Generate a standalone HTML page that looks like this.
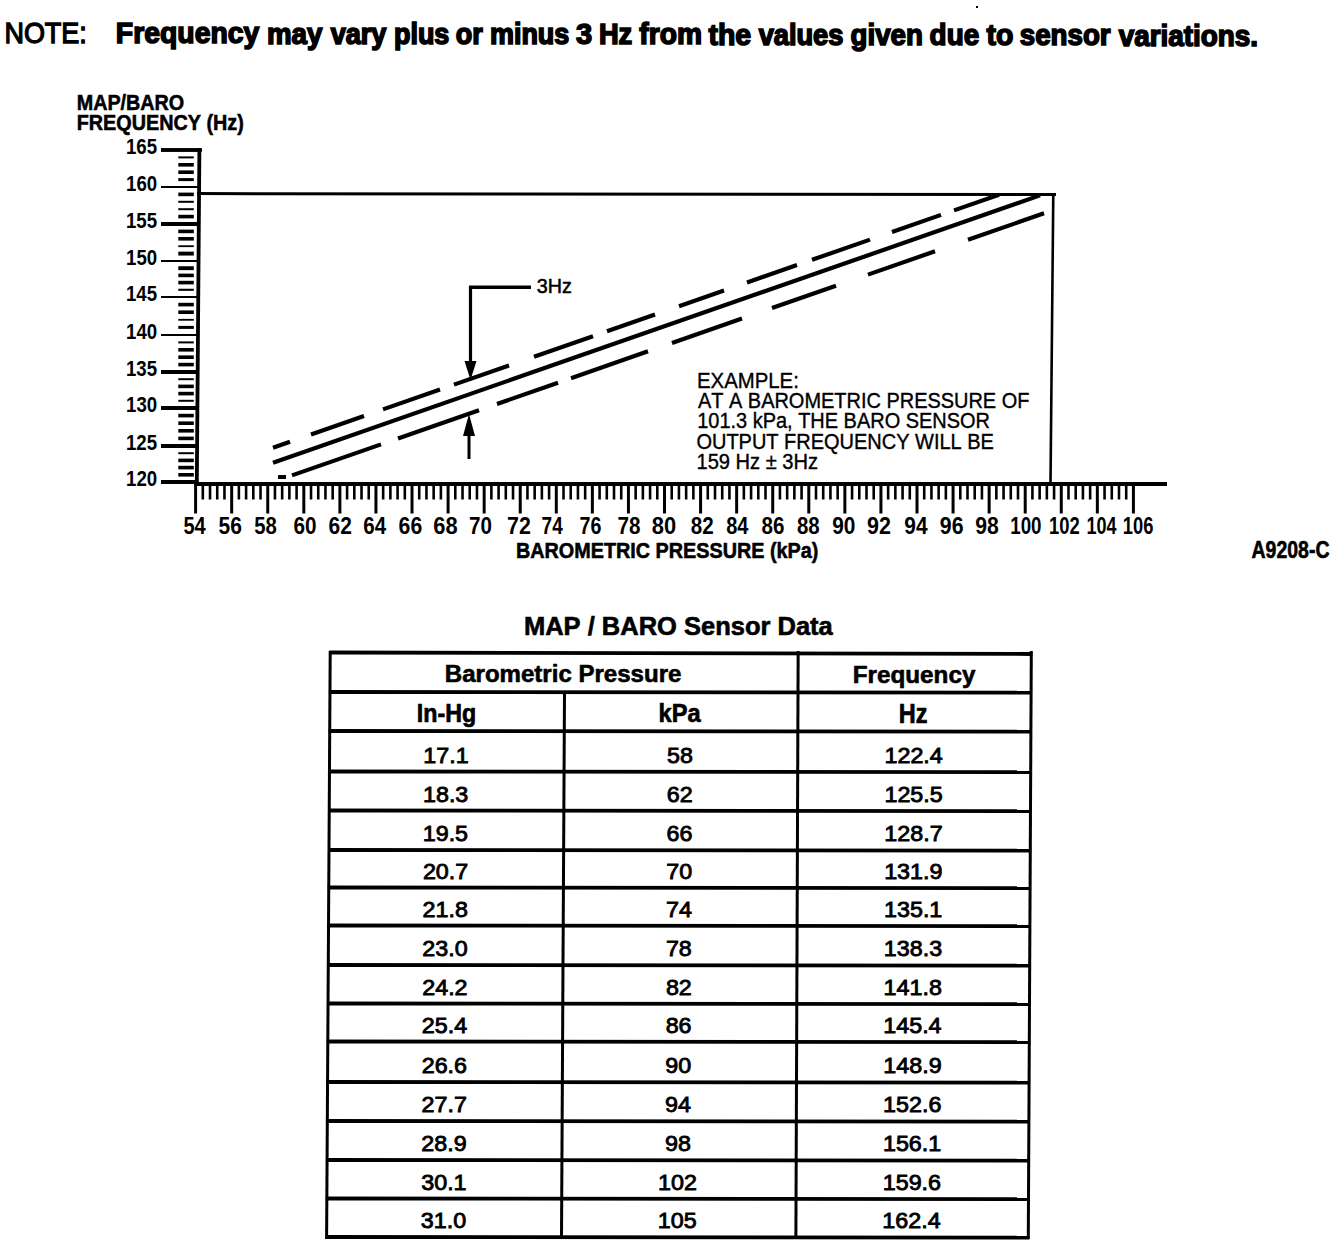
<!DOCTYPE html>
<html><head><meta charset="utf-8"><style>
html,body{margin:0;padding:0;background:#fff;}
body{width:1344px;height:1246px;overflow:hidden;}
svg{display:block;}
text{font-family:"Liberation Sans",sans-serif;font-kerning:none;fill:#000;}
line{stroke:#000;stroke-linecap:butt;}
</style></head><body>
<svg width="1344" height="1246" viewBox="0 0 1344 1246">
<rect width="1344" height="1246" fill="#fff"/>
<text transform="translate(4.39,43.00) scale(0.9103,1)" font-size="29.65" stroke="#000" stroke-width="1.32">NOTE:</text>
<text transform="translate(115.85,43.26) scale(0.9590,1)" font-size="29.60" font-weight="bold" stroke="#000" stroke-width="1.56">Frequency</text>
<text transform="translate(266.92,43.51) scale(0.9364,1)" font-size="29.60" font-weight="bold" stroke="#000" stroke-width="1.60">may</text>
<text transform="translate(330.64,43.65) scale(0.9154,1)" font-size="29.60" font-weight="bold" stroke="#000" stroke-width="1.64">vary</text>
<text transform="translate(393.97,43.80) scale(0.9102,1)" font-size="29.60" font-weight="bold" stroke="#000" stroke-width="1.65">plus</text>
<text transform="translate(455.70,43.90) scale(0.9109,1)" font-size="29.60" font-weight="bold" stroke="#000" stroke-width="1.65">or</text>
<text transform="translate(489.97,44.04) scale(0.9107,1)" font-size="29.60" font-weight="bold" stroke="#000" stroke-width="1.65">minus</text>
<text transform="translate(576.08,44.17) scale(0.9855,1)" font-size="29.60" font-weight="bold" stroke="#000" stroke-width="1.52">3</text>
<text transform="translate(598.93,44.24) scale(0.9207,1)" font-size="29.60" font-weight="bold" stroke="#000" stroke-width="1.63">Hz</text>
<text transform="translate(639.27,44.36) scale(0.9537,1)" font-size="29.60" font-weight="bold" stroke="#000" stroke-width="1.57">from</text>
<text transform="translate(708.40,44.50) scale(0.9645,1)" font-size="29.60" font-weight="bold" stroke="#000" stroke-width="1.56">the</text>
<text transform="translate(758.64,44.66) scale(0.9194,1)" font-size="29.60" font-weight="bold" stroke="#000" stroke-width="1.63">values</text>
<text transform="translate(850.61,44.86) scale(0.9359,1)" font-size="29.60" font-weight="bold" stroke="#000" stroke-width="1.60">given</text>
<text transform="translate(929.61,45.01) scale(0.9425,1)" font-size="29.60" font-weight="bold" stroke="#000" stroke-width="1.59">due</text>
<text transform="translate(986.40,45.11) scale(0.9652,1)" font-size="29.60" font-weight="bold" stroke="#000" stroke-width="1.55">to</text>
<text transform="translate(1019.78,45.26) scale(0.9364,1)" font-size="29.60" font-weight="bold" stroke="#000" stroke-width="1.60">sensor</text>
<text transform="translate(1118.64,45.54) scale(0.9424,1)" font-size="29.60" font-weight="bold" stroke="#000" stroke-width="1.59">variations.</text>
<rect x="976.00" y="6.00" width="2.00" height="2.00"/>
<text transform="translate(76.68,109.60) scale(0.9130,1)" font-size="21.66" font-weight="bold" stroke="#000" stroke-width="0.55">MAP/BARO</text>
<text transform="translate(76.67,129.60) scale(0.8738,1)" font-size="22.67" font-weight="bold" stroke="#000" stroke-width="0.57">FREQUENCY (Hz)</text>
<line x1="199.40" y1="148.30" x2="196.80" y2="486.00" stroke-width="3.8"/>
<line x1="161.00" y1="150.00" x2="200.39" y2="150.00" stroke-width="3.7"/>
<text transform="translate(125.93,154.00) scale(0.8100,1)" font-size="23.00" font-weight="bold">165</text>
<line x1="161.00" y1="187.00" x2="200.10" y2="187.00" stroke-width="2.2"/>
<text transform="translate(126.05,191.00) scale(0.8100,1)" font-size="23.00" font-weight="bold">160</text>
<line x1="161.00" y1="224.00" x2="199.82" y2="224.00" stroke-width="4"/>
<text transform="translate(125.93,228.00) scale(0.8100,1)" font-size="23.00" font-weight="bold">155</text>
<line x1="161.00" y1="261.00" x2="199.53" y2="261.00" stroke-width="2.2"/>
<text transform="translate(126.05,265.00) scale(0.8100,1)" font-size="23.00" font-weight="bold">150</text>
<line x1="161.00" y1="297.00" x2="199.26" y2="297.00" stroke-width="2.2"/>
<text transform="translate(125.93,301.00) scale(0.8100,1)" font-size="23.00" font-weight="bold">145</text>
<line x1="161.00" y1="335.00" x2="198.96" y2="335.00" stroke-width="2.2"/>
<text transform="translate(126.05,339.00) scale(0.8100,1)" font-size="23.00" font-weight="bold">140</text>
<line x1="161.00" y1="372.00" x2="198.68" y2="372.00" stroke-width="4"/>
<text transform="translate(125.93,376.00) scale(0.8100,1)" font-size="23.00" font-weight="bold">135</text>
<line x1="161.00" y1="408.00" x2="198.40" y2="408.00" stroke-width="4"/>
<text transform="translate(126.05,412.00) scale(0.8100,1)" font-size="23.00" font-weight="bold">130</text>
<line x1="161.00" y1="446.00" x2="198.11" y2="446.00" stroke-width="4"/>
<text transform="translate(125.93,450.00) scale(0.8100,1)" font-size="23.00" font-weight="bold">125</text>
<line x1="161.00" y1="482.00" x2="197.83" y2="482.00" stroke-width="4"/>
<text transform="translate(126.05,486.00) scale(0.8100,1)" font-size="23.00" font-weight="bold">120</text>
<rect x="178.30" y="156.40" width="15.50" height="2.00"/>
<rect x="178.30" y="163.00" width="15.50" height="3.60"/>
<rect x="178.30" y="170.40" width="15.50" height="3.60"/>
<rect x="178.30" y="178.10" width="15.50" height="3.00"/>
<rect x="178.30" y="192.60" width="15.50" height="3.60"/>
<rect x="178.30" y="200.80" width="15.50" height="2.00"/>
<rect x="178.30" y="208.20" width="15.50" height="2.00"/>
<rect x="178.30" y="214.80" width="15.50" height="3.60"/>
<rect x="178.30" y="229.60" width="15.50" height="3.60"/>
<rect x="178.30" y="237.00" width="15.50" height="3.60"/>
<rect x="178.30" y="245.30" width="15.50" height="1.80"/>
<rect x="178.30" y="251.65" width="15.50" height="3.90"/>
<rect x="178.30" y="266.25" width="15.50" height="3.90"/>
<rect x="178.30" y="273.60" width="15.50" height="3.60"/>
<rect x="178.30" y="280.80" width="15.50" height="3.60"/>
<rect x="178.30" y="288.75" width="15.50" height="2.10"/>
<rect x="178.30" y="302.80" width="15.50" height="3.60"/>
<rect x="178.30" y="310.40" width="15.50" height="3.60"/>
<rect x="178.30" y="318.90" width="15.50" height="1.80"/>
<rect x="178.30" y="325.90" width="15.50" height="3.00"/>
<rect x="178.30" y="341.40" width="15.50" height="2.00"/>
<rect x="178.30" y="348.00" width="15.50" height="3.60"/>
<rect x="178.30" y="355.40" width="15.50" height="3.60"/>
<rect x="178.30" y="362.80" width="15.50" height="3.60"/>
<rect x="178.30" y="378.20" width="15.50" height="2.00"/>
<rect x="178.30" y="384.60" width="15.50" height="3.60"/>
<rect x="178.30" y="391.80" width="15.50" height="3.60"/>
<rect x="178.30" y="399.80" width="15.50" height="2.00"/>
<rect x="178.30" y="413.80" width="15.50" height="3.60"/>
<rect x="178.30" y="421.40" width="15.50" height="3.60"/>
<rect x="178.30" y="429.00" width="15.50" height="3.60"/>
<rect x="178.30" y="436.60" width="15.50" height="3.60"/>
<rect x="178.30" y="452.20" width="15.50" height="2.00"/>
<rect x="178.30" y="458.60" width="15.50" height="3.60"/>
<rect x="178.30" y="465.80" width="15.50" height="3.60"/>
<rect x="178.30" y="473.00" width="15.50" height="3.60"/>
<line x1="161.00" y1="150.00" x2="202.00" y2="150.00" stroke-width="3.7"/>
<line x1="197.00" y1="193.60" x2="1056.00" y2="194.60" stroke-width="3"/>
<line x1="1053.30" y1="193.00" x2="1050.50" y2="484.00" stroke-width="2.6"/>
<line x1="194.00" y1="484.00" x2="1167.00" y2="484.00" stroke-width="4.2"/>
<line x1="195.60" y1="483.00" x2="195.60" y2="513.50" stroke-width="3"/>
<text transform="translate(183.38,533.50) scale(0.8541,1)" font-size="23.50" font-weight="bold">54</text>
<line x1="202.81" y1="483.00" x2="202.81" y2="499.50" stroke-width="2.6"/>
<line x1="210.03" y1="483.00" x2="210.03" y2="499.50" stroke-width="2.6"/>
<line x1="217.24" y1="483.00" x2="217.24" y2="499.50" stroke-width="2.6"/>
<line x1="224.46" y1="483.00" x2="224.46" y2="499.50" stroke-width="2.6"/>
<line x1="231.67" y1="483.00" x2="231.67" y2="513.50" stroke-width="3"/>
<text transform="translate(218.55,533.50) scale(0.8955,1)" font-size="23.50" font-weight="bold">56</text>
<line x1="238.88" y1="483.00" x2="238.88" y2="499.50" stroke-width="2.6"/>
<line x1="246.10" y1="483.00" x2="246.10" y2="499.50" stroke-width="2.6"/>
<line x1="253.31" y1="483.00" x2="253.31" y2="499.50" stroke-width="2.6"/>
<line x1="260.53" y1="483.00" x2="260.53" y2="499.50" stroke-width="2.6"/>
<line x1="267.74" y1="483.00" x2="267.74" y2="513.50" stroke-width="3"/>
<text transform="translate(254.27,533.50) scale(0.8666,1)" font-size="23.50" font-weight="bold">58</text>
<line x1="274.95" y1="483.00" x2="274.95" y2="499.50" stroke-width="2.6"/>
<line x1="282.17" y1="483.00" x2="282.17" y2="499.50" stroke-width="2.6"/>
<line x1="289.38" y1="483.00" x2="289.38" y2="499.50" stroke-width="2.6"/>
<line x1="296.60" y1="483.00" x2="296.60" y2="499.50" stroke-width="2.6"/>
<line x1="303.81" y1="483.00" x2="303.81" y2="513.50" stroke-width="3"/>
<text transform="translate(293.44,533.50) scale(0.8801,1)" font-size="23.50" font-weight="bold">60</text>
<line x1="311.02" y1="483.00" x2="311.02" y2="499.50" stroke-width="2.6"/>
<line x1="318.24" y1="483.00" x2="318.24" y2="499.50" stroke-width="2.6"/>
<line x1="325.45" y1="483.00" x2="325.45" y2="499.50" stroke-width="2.6"/>
<line x1="332.67" y1="483.00" x2="332.67" y2="499.50" stroke-width="2.6"/>
<line x1="339.88" y1="483.00" x2="339.88" y2="513.50" stroke-width="3"/>
<text transform="translate(328.53,533.50) scale(0.8916,1)" font-size="23.50" font-weight="bold">62</text>
<line x1="347.09" y1="483.00" x2="347.09" y2="499.50" stroke-width="2.6"/>
<line x1="354.31" y1="483.00" x2="354.31" y2="499.50" stroke-width="2.6"/>
<line x1="361.52" y1="483.00" x2="361.52" y2="499.50" stroke-width="2.6"/>
<line x1="368.74" y1="483.00" x2="368.74" y2="499.50" stroke-width="2.6"/>
<line x1="375.95" y1="483.00" x2="375.95" y2="513.50" stroke-width="3"/>
<text transform="translate(363.25,533.50) scale(0.8747,1)" font-size="23.50" font-weight="bold">64</text>
<line x1="383.16" y1="483.00" x2="383.16" y2="499.50" stroke-width="2.6"/>
<line x1="390.38" y1="483.00" x2="390.38" y2="499.50" stroke-width="2.6"/>
<line x1="397.59" y1="483.00" x2="397.59" y2="499.50" stroke-width="2.6"/>
<line x1="404.81" y1="483.00" x2="404.81" y2="499.50" stroke-width="2.6"/>
<line x1="412.02" y1="483.00" x2="412.02" y2="513.50" stroke-width="3"/>
<text transform="translate(398.62,533.50) scale(0.9046,1)" font-size="23.50" font-weight="bold">66</text>
<line x1="419.23" y1="483.00" x2="419.23" y2="499.50" stroke-width="2.6"/>
<line x1="426.45" y1="483.00" x2="426.45" y2="499.50" stroke-width="2.6"/>
<line x1="433.66" y1="483.00" x2="433.66" y2="499.50" stroke-width="2.6"/>
<line x1="440.88" y1="483.00" x2="440.88" y2="499.50" stroke-width="2.6"/>
<line x1="448.09" y1="483.00" x2="448.09" y2="513.50" stroke-width="3"/>
<text transform="translate(433.20,533.50) scale(0.9326,1)" font-size="23.50" font-weight="bold">68</text>
<line x1="455.30" y1="483.00" x2="455.30" y2="499.50" stroke-width="2.6"/>
<line x1="462.52" y1="483.00" x2="462.52" y2="499.50" stroke-width="2.6"/>
<line x1="469.73" y1="483.00" x2="469.73" y2="499.50" stroke-width="2.6"/>
<line x1="476.95" y1="483.00" x2="476.95" y2="499.50" stroke-width="2.6"/>
<line x1="484.16" y1="483.00" x2="484.16" y2="513.50" stroke-width="3"/>
<text transform="translate(469.11,533.50) scale(0.8773,1)" font-size="23.50" font-weight="bold">70</text>
<line x1="491.37" y1="483.00" x2="491.37" y2="499.50" stroke-width="2.6"/>
<line x1="498.59" y1="483.00" x2="498.59" y2="499.50" stroke-width="2.6"/>
<line x1="505.80" y1="483.00" x2="505.80" y2="499.50" stroke-width="2.6"/>
<line x1="513.02" y1="483.00" x2="513.02" y2="499.50" stroke-width="2.6"/>
<line x1="520.23" y1="483.00" x2="520.23" y2="513.50" stroke-width="3"/>
<text transform="translate(507.08,533.50) scale(0.9095,1)" font-size="23.50" font-weight="bold">72</text>
<line x1="527.44" y1="483.00" x2="527.44" y2="499.50" stroke-width="2.6"/>
<line x1="534.66" y1="483.00" x2="534.66" y2="499.50" stroke-width="2.6"/>
<line x1="541.87" y1="483.00" x2="541.87" y2="499.50" stroke-width="2.6"/>
<line x1="549.09" y1="483.00" x2="549.09" y2="499.50" stroke-width="2.6"/>
<line x1="556.30" y1="483.00" x2="556.30" y2="513.50" stroke-width="3"/>
<text transform="translate(541.58,533.50) scale(0.8079,1)" font-size="23.50" font-weight="bold">74</text>
<line x1="563.51" y1="483.00" x2="563.51" y2="499.50" stroke-width="2.6"/>
<line x1="570.73" y1="483.00" x2="570.73" y2="499.50" stroke-width="2.6"/>
<line x1="577.94" y1="483.00" x2="577.94" y2="499.50" stroke-width="2.6"/>
<line x1="585.16" y1="483.00" x2="585.16" y2="499.50" stroke-width="2.6"/>
<line x1="592.37" y1="483.00" x2="592.37" y2="513.50" stroke-width="3"/>
<text transform="translate(579.46,533.50) scale(0.8361,1)" font-size="23.50" font-weight="bold">76</text>
<line x1="599.58" y1="483.00" x2="599.58" y2="499.50" stroke-width="2.6"/>
<line x1="606.80" y1="483.00" x2="606.80" y2="499.50" stroke-width="2.6"/>
<line x1="614.01" y1="483.00" x2="614.01" y2="499.50" stroke-width="2.6"/>
<line x1="621.23" y1="483.00" x2="621.23" y2="499.50" stroke-width="2.6"/>
<line x1="628.44" y1="483.00" x2="628.44" y2="513.50" stroke-width="3"/>
<text transform="translate(617.41,533.50) scale(0.8809,1)" font-size="23.50" font-weight="bold">78</text>
<line x1="635.65" y1="483.00" x2="635.65" y2="499.50" stroke-width="2.6"/>
<line x1="642.87" y1="483.00" x2="642.87" y2="499.50" stroke-width="2.6"/>
<line x1="650.08" y1="483.00" x2="650.08" y2="499.50" stroke-width="2.6"/>
<line x1="657.30" y1="483.00" x2="657.30" y2="499.50" stroke-width="2.6"/>
<line x1="664.51" y1="483.00" x2="664.51" y2="513.50" stroke-width="3"/>
<text transform="translate(651.70,533.50) scale(0.9333,1)" font-size="23.50" font-weight="bold">80</text>
<line x1="671.72" y1="483.00" x2="671.72" y2="499.50" stroke-width="2.6"/>
<line x1="678.94" y1="483.00" x2="678.94" y2="499.50" stroke-width="2.6"/>
<line x1="686.15" y1="483.00" x2="686.15" y2="499.50" stroke-width="2.6"/>
<line x1="693.37" y1="483.00" x2="693.37" y2="499.50" stroke-width="2.6"/>
<line x1="700.58" y1="483.00" x2="700.58" y2="513.50" stroke-width="3"/>
<text transform="translate(690.74,533.50) scale(0.8793,1)" font-size="23.50" font-weight="bold">82</text>
<line x1="707.79" y1="483.00" x2="707.79" y2="499.50" stroke-width="2.6"/>
<line x1="715.01" y1="483.00" x2="715.01" y2="499.50" stroke-width="2.6"/>
<line x1="722.22" y1="483.00" x2="722.22" y2="499.50" stroke-width="2.6"/>
<line x1="729.44" y1="483.00" x2="729.44" y2="499.50" stroke-width="2.6"/>
<line x1="736.65" y1="483.00" x2="736.65" y2="513.50" stroke-width="3"/>
<text transform="translate(726.17,533.50) scale(0.8509,1)" font-size="23.50" font-weight="bold">84</text>
<line x1="743.86" y1="483.00" x2="743.86" y2="499.50" stroke-width="2.6"/>
<line x1="751.08" y1="483.00" x2="751.08" y2="499.50" stroke-width="2.6"/>
<line x1="758.29" y1="483.00" x2="758.29" y2="499.50" stroke-width="2.6"/>
<line x1="765.51" y1="483.00" x2="765.51" y2="499.50" stroke-width="2.6"/>
<line x1="772.72" y1="483.00" x2="772.72" y2="513.50" stroke-width="3"/>
<text transform="translate(761.55,533.50) scale(0.8760,1)" font-size="23.50" font-weight="bold">86</text>
<line x1="779.93" y1="483.00" x2="779.93" y2="499.50" stroke-width="2.6"/>
<line x1="787.15" y1="483.00" x2="787.15" y2="499.50" stroke-width="2.6"/>
<line x1="794.36" y1="483.00" x2="794.36" y2="499.50" stroke-width="2.6"/>
<line x1="801.58" y1="483.00" x2="801.58" y2="499.50" stroke-width="2.6"/>
<line x1="808.79" y1="483.00" x2="808.79" y2="513.50" stroke-width="3"/>
<text transform="translate(796.95,533.50) scale(0.8715,1)" font-size="23.50" font-weight="bold">88</text>
<line x1="816.00" y1="483.00" x2="816.00" y2="499.50" stroke-width="2.6"/>
<line x1="823.22" y1="483.00" x2="823.22" y2="499.50" stroke-width="2.6"/>
<line x1="830.43" y1="483.00" x2="830.43" y2="499.50" stroke-width="2.6"/>
<line x1="837.65" y1="483.00" x2="837.65" y2="499.50" stroke-width="2.6"/>
<line x1="844.86" y1="483.00" x2="844.86" y2="513.50" stroke-width="3"/>
<text transform="translate(832.28,533.50) scale(0.8867,1)" font-size="23.50" font-weight="bold">90</text>
<line x1="852.07" y1="483.00" x2="852.07" y2="499.50" stroke-width="2.6"/>
<line x1="859.29" y1="483.00" x2="859.29" y2="499.50" stroke-width="2.6"/>
<line x1="866.50" y1="483.00" x2="866.50" y2="499.50" stroke-width="2.6"/>
<line x1="873.72" y1="483.00" x2="873.72" y2="499.50" stroke-width="2.6"/>
<line x1="880.93" y1="483.00" x2="880.93" y2="513.50" stroke-width="3"/>
<text transform="translate(866.95,533.50) scale(0.9146,1)" font-size="23.50" font-weight="bold">92</text>
<line x1="888.14" y1="483.00" x2="888.14" y2="499.50" stroke-width="2.6"/>
<line x1="895.36" y1="483.00" x2="895.36" y2="499.50" stroke-width="2.6"/>
<line x1="902.57" y1="483.00" x2="902.57" y2="499.50" stroke-width="2.6"/>
<line x1="909.79" y1="483.00" x2="909.79" y2="499.50" stroke-width="2.6"/>
<line x1="917.00" y1="483.00" x2="917.00" y2="513.50" stroke-width="3"/>
<text transform="translate(904.28,533.50) scale(0.8890,1)" font-size="23.50" font-weight="bold">94</text>
<line x1="924.21" y1="483.00" x2="924.21" y2="499.50" stroke-width="2.6"/>
<line x1="931.43" y1="483.00" x2="931.43" y2="499.50" stroke-width="2.6"/>
<line x1="938.64" y1="483.00" x2="938.64" y2="499.50" stroke-width="2.6"/>
<line x1="945.86" y1="483.00" x2="945.86" y2="499.50" stroke-width="2.6"/>
<line x1="953.07" y1="483.00" x2="953.07" y2="513.50" stroke-width="3"/>
<text transform="translate(939.86,533.50) scale(0.9070,1)" font-size="23.50" font-weight="bold">96</text>
<line x1="960.28" y1="483.00" x2="960.28" y2="499.50" stroke-width="2.6"/>
<line x1="967.50" y1="483.00" x2="967.50" y2="499.50" stroke-width="2.6"/>
<line x1="974.71" y1="483.00" x2="974.71" y2="499.50" stroke-width="2.6"/>
<line x1="981.93" y1="483.00" x2="981.93" y2="499.50" stroke-width="2.6"/>
<line x1="989.14" y1="483.00" x2="989.14" y2="513.50" stroke-width="3"/>
<text transform="translate(975.26,533.50) scale(0.9024,1)" font-size="23.50" font-weight="bold">98</text>
<line x1="996.35" y1="483.00" x2="996.35" y2="499.50" stroke-width="2.6"/>
<line x1="1003.57" y1="483.00" x2="1003.57" y2="499.50" stroke-width="2.6"/>
<line x1="1010.78" y1="483.00" x2="1010.78" y2="499.50" stroke-width="2.6"/>
<line x1="1018.00" y1="483.00" x2="1018.00" y2="499.50" stroke-width="2.6"/>
<line x1="1025.21" y1="483.00" x2="1025.21" y2="513.50" stroke-width="3"/>
<text transform="translate(1010.22,533.50) scale(0.7997,1)" font-size="23.50" font-weight="bold">100</text>
<line x1="1032.42" y1="483.00" x2="1032.42" y2="499.50" stroke-width="2.6"/>
<line x1="1039.64" y1="483.00" x2="1039.64" y2="499.50" stroke-width="2.6"/>
<line x1="1046.85" y1="483.00" x2="1046.85" y2="499.50" stroke-width="2.6"/>
<line x1="1054.07" y1="483.00" x2="1054.07" y2="499.50" stroke-width="2.6"/>
<line x1="1061.28" y1="483.00" x2="1061.28" y2="513.50" stroke-width="3"/>
<text transform="translate(1049.04,533.50) scale(0.7829,1)" font-size="23.50" font-weight="bold">102</text>
<line x1="1068.49" y1="483.00" x2="1068.49" y2="499.50" stroke-width="2.6"/>
<line x1="1075.71" y1="483.00" x2="1075.71" y2="499.50" stroke-width="2.6"/>
<line x1="1082.92" y1="483.00" x2="1082.92" y2="499.50" stroke-width="2.6"/>
<line x1="1090.14" y1="483.00" x2="1090.14" y2="499.50" stroke-width="2.6"/>
<line x1="1097.35" y1="483.00" x2="1097.35" y2="513.50" stroke-width="3"/>
<text transform="translate(1086.57,533.50) scale(0.7659,1)" font-size="23.50" font-weight="bold">104</text>
<line x1="1104.56" y1="483.00" x2="1104.56" y2="499.50" stroke-width="2.6"/>
<line x1="1111.78" y1="483.00" x2="1111.78" y2="499.50" stroke-width="2.6"/>
<line x1="1118.99" y1="483.00" x2="1118.99" y2="499.50" stroke-width="2.6"/>
<line x1="1126.21" y1="483.00" x2="1126.21" y2="499.50" stroke-width="2.6"/>
<line x1="1133.42" y1="483.00" x2="1133.42" y2="513.50" stroke-width="3"/>
<text transform="translate(1122.74,533.50) scale(0.7809,1)" font-size="23.50" font-weight="bold">106</text>
<text transform="translate(515.88,557.80) scale(0.8679,1)" font-size="22.82" font-weight="bold" stroke="#000" stroke-width="0.58">BAROMETRIC PRESSURE (kPa)</text>
<text transform="translate(1251.51,557.50) scale(0.8129,1)" font-size="23.98" font-weight="bold" stroke="#000" stroke-width="0.62">A9208-C</text>
<line x1="273.00" y1="462.70" x2="1040.00" y2="195.39" stroke-width="4.2"/>
<line x1="273.00" y1="447.70" x2="290.00" y2="441.78" stroke-width="4.2"/>
<line x1="311.00" y1="434.46" x2="364.00" y2="415.99" stroke-width="4.2"/>
<line x1="383.00" y1="409.37" x2="440.00" y2="389.50" stroke-width="4.2"/>
<line x1="454.00" y1="384.62" x2="509.00" y2="365.45" stroke-width="4.2"/>
<line x1="534.00" y1="356.74" x2="593.00" y2="336.18" stroke-width="4.2"/>
<line x1="607.00" y1="331.30" x2="655.00" y2="314.57" stroke-width="4.2"/>
<line x1="679.00" y1="306.20" x2="724.00" y2="290.52" stroke-width="4.2"/>
<line x1="747.00" y1="282.51" x2="797.00" y2="265.08" stroke-width="4.2"/>
<line x1="812.00" y1="259.85" x2="870.00" y2="239.64" stroke-width="4.2"/>
<line x1="892.00" y1="231.97" x2="941.00" y2="214.89" stroke-width="4.2"/>
<line x1="954.00" y1="210.36" x2="999.00" y2="194.68" stroke-width="4.2"/>
<line x1="292.00" y1="475.38" x2="381.00" y2="444.36" stroke-width="4.2"/>
<line x1="398.00" y1="438.44" x2="479.00" y2="410.21" stroke-width="4.2"/>
<line x1="497.00" y1="403.94" x2="558.00" y2="382.68" stroke-width="4.2"/>
<line x1="571.00" y1="378.15" x2="648.00" y2="351.31" stroke-width="4.2"/>
<line x1="672.00" y1="342.94" x2="742.00" y2="318.55" stroke-width="4.2"/>
<line x1="772.00" y1="308.09" x2="836.00" y2="285.79" stroke-width="4.2"/>
<line x1="868.00" y1="274.63" x2="935.00" y2="251.28" stroke-width="4.2"/>
<line x1="968.00" y1="239.78" x2="1044.00" y2="213.30" stroke-width="4.2"/>
<rect x="278.00" y="475.00" width="8.00" height="4.00"/>
<line x1="470.50" y1="286.00" x2="470.50" y2="365.00" stroke-width="3.2"/>
<polygon points="464.5,361 476.5,361 470.5,380"/>
<line x1="469.00" y1="287.30" x2="531.00" y2="287.30" stroke-width="3.6"/>
<text transform="translate(536.75,293.40) scale(0.9375,1)" font-size="21.08" stroke="#000" stroke-width="0.53">3Hz</text>
<line x1="469.00" y1="459.00" x2="469.00" y2="435.00" stroke-width="3"/>
<polygon points="463,436 475,436 469,414"/>
<text transform="translate(697.03,387.80) scale(0.9129,1)" font-size="22.30" stroke="#000" stroke-width="0.38">EXAMPLE:</text>
<text transform="translate(697.96,407.90) scale(0.8949,1)" font-size="22.30" stroke="#000" stroke-width="0.39">AT A BAROMETRIC PRESSURE OF</text>
<text transform="translate(697.18,428.00) scale(0.8954,1)" font-size="22.30" stroke="#000" stroke-width="0.39">101.3 kPa, THE BARO SENSOR</text>
<text transform="translate(696.45,448.50) scale(0.8965,1)" font-size="22.30" stroke="#000" stroke-width="0.39">OUTPUT FREQUENCY WILL BE</text>
<text transform="translate(696.47,469.00) scale(0.9021,1)" font-size="22.30" stroke="#000" stroke-width="0.39">159 Hz ± 3Hz</text>
<text transform="translate(523.89,635.40) scale(0.9913,1)" font-size="25.73" font-weight="bold" stroke="#000" stroke-width="0.61">MAP / BARO Sensor Data</text>
<line x1="329.20" y1="652.50" x2="1032.30" y2="654.00" stroke-width="3.8"/>
<line x1="328.95" y1="692.00" x2="1032.09" y2="692.60" stroke-width="3.8"/>
<line x1="328.71" y1="731.00" x2="1031.89" y2="731.60" stroke-width="3.8"/>
<line x1="328.46" y1="771.50" x2="1031.69" y2="772.10" stroke-width="3.8"/>
<line x1="328.22" y1="810.50" x2="1031.49" y2="811.10" stroke-width="3.8"/>
<line x1="327.98" y1="850.00" x2="1031.28" y2="850.60" stroke-width="3.8"/>
<line x1="327.75" y1="887.50" x2="1031.09" y2="888.10" stroke-width="3.8"/>
<line x1="327.52" y1="925.50" x2="1030.90" y2="926.10" stroke-width="3.8"/>
<line x1="327.27" y1="965.00" x2="1030.69" y2="965.60" stroke-width="3.8"/>
<line x1="327.04" y1="1003.50" x2="1030.50" y2="1004.10" stroke-width="3.8"/>
<line x1="326.80" y1="1041.50" x2="1030.30" y2="1042.10" stroke-width="3.8"/>
<line x1="326.55" y1="1082.00" x2="1030.09" y2="1082.60" stroke-width="3.8"/>
<line x1="326.31" y1="1121.00" x2="1029.89" y2="1121.60" stroke-width="3.8"/>
<line x1="326.07" y1="1160.00" x2="1029.69" y2="1160.60" stroke-width="3.8"/>
<line x1="325.84" y1="1198.50" x2="1029.50" y2="1199.10" stroke-width="3.8"/>
<line x1="325.60" y1="1237.00" x2="1029.30" y2="1237.60" stroke-width="3.8"/>
<line x1="330.21" y1="651.00" x2="326.59" y2="1239.00" stroke-width="3"/>
<line x1="1031.31" y1="651.00" x2="1028.29" y2="1239.00" stroke-width="3"/>
<line x1="564.51" y1="691.00" x2="561.49" y2="1239.00" stroke-width="3.0"/>
<line x1="798.16" y1="651.00" x2="795.89" y2="1239.00" stroke-width="3.0"/>
<text transform="translate(444.79,682.30) scale(1.0342,1)" font-size="23.26" font-weight="bold" stroke="#000" stroke-width="0.58">Barometric Pressure</text>
<text transform="translate(852.68,683.40) scale(1.0000,1)" font-size="24.27" font-weight="bold" stroke="#000" stroke-width="0.60">Frequency</text>
<text transform="translate(416.84,721.50) scale(0.9248,1)" font-size="25.15" font-weight="bold" stroke="#000" stroke-width="0.65">In-Hg</text>
<text transform="translate(658.55,721.80) scale(0.9175,1)" font-size="25.73" font-weight="bold" stroke="#000" stroke-width="0.65">kPa</text>
<text transform="translate(898.73,723.30) scale(0.8554,1)" font-size="27.47" font-weight="bold" stroke="#000" stroke-width="0.70">Hz</text>
<text transform="translate(423.25,762.50) scale(1.0600,1)" font-size="22.00" stroke="#000" stroke-width="0.85">17.1</text>
<text transform="translate(666.95,762.50) scale(1.0600,1)" font-size="22.00" stroke="#000" stroke-width="0.85">58</text>
<text transform="translate(884.47,762.50) scale(1.0600,1)" font-size="22.00" stroke="#000" stroke-width="0.85">122.4</text>
<text transform="translate(422.97,801.50) scale(1.0600,1)" font-size="22.00" stroke="#000" stroke-width="0.85">18.3</text>
<text transform="translate(666.72,801.50) scale(1.0600,1)" font-size="22.00" stroke="#000" stroke-width="0.85">62</text>
<text transform="translate(884.44,801.50) scale(1.0600,1)" font-size="22.00" stroke="#000" stroke-width="0.85">125.5</text>
<text transform="translate(422.71,841.00) scale(1.0600,1)" font-size="22.00" stroke="#000" stroke-width="0.85">19.5</text>
<text transform="translate(666.46,841.00) scale(1.0600,1)" font-size="22.00" stroke="#000" stroke-width="0.85">66</text>
<text transform="translate(884.36,841.00) scale(1.0600,1)" font-size="22.00" stroke="#000" stroke-width="0.85">128.7</text>
<text transform="translate(422.89,878.50) scale(1.0600,1)" font-size="22.00" stroke="#000" stroke-width="0.85">20.7</text>
<text transform="translate(666.22,878.50) scale(1.0600,1)" font-size="22.00" stroke="#000" stroke-width="0.85">70</text>
<text transform="translate(884.16,878.50) scale(1.0600,1)" font-size="22.00" stroke="#000" stroke-width="0.85">131.9</text>
<text transform="translate(422.59,916.50) scale(1.0600,1)" font-size="22.00" stroke="#000" stroke-width="0.85">21.8</text>
<text transform="translate(665.93,916.50) scale(1.0600,1)" font-size="22.00" stroke="#000" stroke-width="0.85">74</text>
<text transform="translate(884.00,916.50) scale(1.0600,1)" font-size="22.00" stroke="#000" stroke-width="0.85">135.1</text>
<text transform="translate(422.31,956.00) scale(1.0600,1)" font-size="22.00" stroke="#000" stroke-width="0.85">23.0</text>
<text transform="translate(665.91,956.00) scale(1.0600,1)" font-size="22.00" stroke="#000" stroke-width="0.85">78</text>
<text transform="translate(883.77,956.00) scale(1.0600,1)" font-size="22.00" stroke="#000" stroke-width="0.85">138.3</text>
<text transform="translate(422.22,994.50) scale(1.0600,1)" font-size="22.00" stroke="#000" stroke-width="0.85">24.2</text>
<text transform="translate(665.90,994.50) scale(1.0600,1)" font-size="22.00" stroke="#000" stroke-width="0.85">82</text>
<text transform="translate(883.59,994.50) scale(1.0600,1)" font-size="22.00" stroke="#000" stroke-width="0.85">141.8</text>
<text transform="translate(421.75,1032.50) scale(1.0600,1)" font-size="22.00" stroke="#000" stroke-width="0.85">25.4</text>
<text transform="translate(665.65,1032.50) scale(1.0600,1)" font-size="22.00" stroke="#000" stroke-width="0.85">86</text>
<text transform="translate(883.25,1032.50) scale(1.0600,1)" font-size="22.00" stroke="#000" stroke-width="0.85">145.4</text>
<text transform="translate(421.69,1073.00) scale(1.0600,1)" font-size="22.00" stroke="#000" stroke-width="0.85">26.6</text>
<text transform="translate(665.36,1073.00) scale(1.0600,1)" font-size="22.00" stroke="#000" stroke-width="0.85">90</text>
<text transform="translate(883.28,1073.00) scale(1.0600,1)" font-size="22.00" stroke="#000" stroke-width="0.85">148.9</text>
<text transform="translate(421.53,1112.00) scale(1.0600,1)" font-size="22.00" stroke="#000" stroke-width="0.85">27.7</text>
<text transform="translate(665.07,1112.00) scale(1.0600,1)" font-size="22.00" stroke="#000" stroke-width="0.85">94</text>
<text transform="translate(883.07,1112.00) scale(1.0600,1)" font-size="22.00" stroke="#000" stroke-width="0.85">152.6</text>
<text transform="translate(421.27,1151.00) scale(1.0600,1)" font-size="22.00" stroke="#000" stroke-width="0.85">28.9</text>
<text transform="translate(665.05,1151.00) scale(1.0600,1)" font-size="22.00" stroke="#000" stroke-width="0.85">98</text>
<text transform="translate(882.95,1151.00) scale(1.0600,1)" font-size="22.00" stroke="#000" stroke-width="0.85">156.1</text>
<text transform="translate(421.21,1189.50) scale(1.0600,1)" font-size="22.00" stroke="#000" stroke-width="0.85">30.1</text>
<text transform="translate(658.12,1189.50) scale(1.0600,1)" font-size="22.00" stroke="#000" stroke-width="0.85">102</text>
<text transform="translate(882.72,1189.50) scale(1.0600,1)" font-size="22.00" stroke="#000" stroke-width="0.85">159.6</text>
<text transform="translate(420.87,1228.00) scale(1.0600,1)" font-size="22.00" stroke="#000" stroke-width="0.85">31.0</text>
<text transform="translate(657.85,1228.00) scale(1.0600,1)" font-size="22.00" stroke="#000" stroke-width="0.85">105</text>
<text transform="translate(882.37,1228.00) scale(1.0600,1)" font-size="22.00" stroke="#000" stroke-width="0.85">162.4</text>
</svg>
</body></html>
